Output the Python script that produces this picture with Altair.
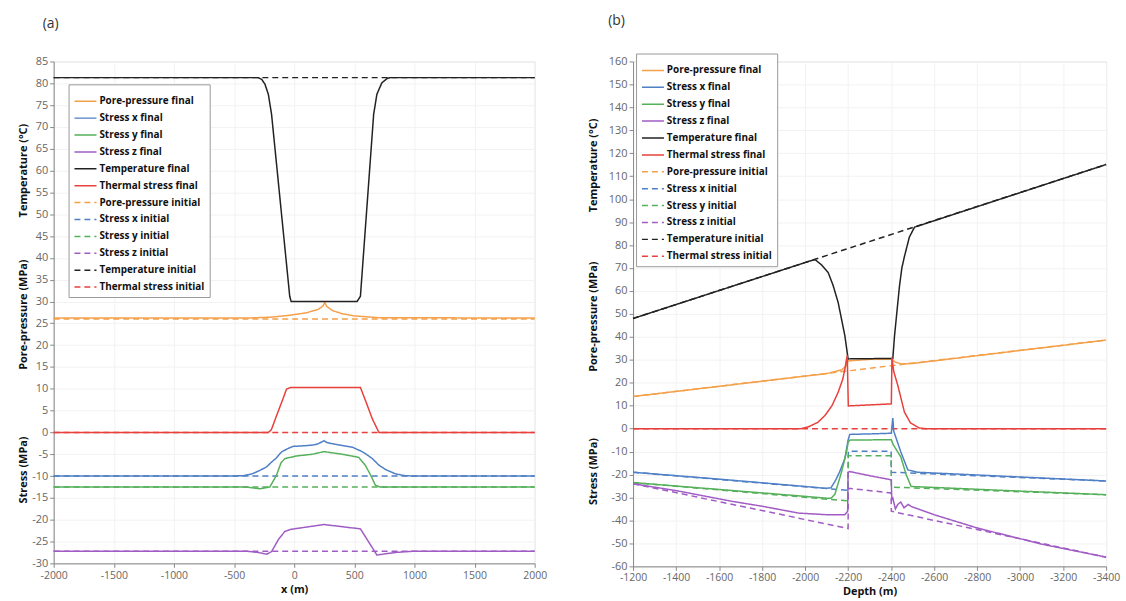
import altair as alt
import pandas as pd

SERIES = ["Pore-pressure final", "Stress x final", "Stress y final", "Stress z final",
          "Temperature final", "Thermal stress final", "Pore-pressure initial",
          "Stress x initial", "Stress y initial", "Stress z initial",
          "Temperature initial", "Thermal stress initial"]
BASE_COLORS = ["#f4a04a", "#4f7fc4", "#55b05a", "#a05cc4", "#222222", "#e8403c"]
COLORS = BASE_COLORS + BASE_COLORS
DASHES = [[1, 0]] * 6 + [[6, 4]] * 6

# ---------------- panel (a): x (m) ----------------
a_temp_final_x = [-2000, -300, -270, -243, -215, -188, -37, -25, 523, 551, 661, 688, 729, 773, 800, 2000]
a_temp_final_y = [81.3, 81.3, 80.9, 79.8, 77.5, 72.9, 31.2, 30.0, 30.0, 31.2, 72.9, 77.5, 80.1, 81.1, 81.3, 81.3]
a_temp_init_x = [-2000, 2000]
a_temp_init_y = [81.3, 81.3]

a_pp_final_x = [-2000, -400, -200, -50, 100, 200, 240, 255, 270, 320, 400, 500, 700, 2000]
a_pp_final_y = [26.2, 26.2, 26.4, 26.8, 27.4, 28.2, 29.0, 29.8, 28.9, 27.9, 27.2, 26.7, 26.3, 26.2]
a_pp_init_x = [-2000, 2000]
a_pp_init_y = [26.0, 26.0]

a_ts_final_x = [-2000, -216, -190, -147, -100, -64, -30, 551, 600, 650, 705, 2000]
a_ts_final_y = [0, 0, 0.6, 3.8, 7.2, 9.9, 10.3, 10.3, 6.8, 3.1, 0, 0]
a_ts_init_x = [-2000, 2000]
a_ts_init_y = [0, 0]

a_sx_final_x = [-2000, -500, -422, -350, -285, -230, -188, -150, -120, -106, -60, -10, 60, 155, 200,
                248, 270, 320, 400, 485, 550, 595, 650, 705, 760, 843, 920, 1000, 2000]
a_sx_final_y = [-10, -10, -9.9, -9.5, -8.7, -7.9, -6.8, -5.9, -4.9, -4.5, -3.8, -3.2, -3.1, -2.9, -2.6,
                -1.9, -2.3, -2.6, -3.0, -3.4, -4.2, -4.9, -6.0, -7.5, -8.5, -9.5, -9.9, -10, -10]
a_sx_init_x = [-2000, 2000]
a_sx_init_y = [-10, -10]

a_sy_final_x = [-2000, -400, -285, -202, -147, -110, -78, 18, 150, 248, 400, 537, 593, 640, 675, 713, 2000]
a_sy_final_y = [-12.5, -12.5, -12.9, -12.5, -9.8, -7.0, -6.0, -5.4, -5.0, -4.4, -5.0, -5.7, -7.6, -10.0, -12.1, -12.5, -12.5]
a_sy_init_x = [-2000, 2000]
a_sy_init_y = [-12.5, -12.5]

a_sz_final_x = [-2000, -400, -300, -229, -188, -130, -78, -27, 100, 248, 400, 551, 661, 688, 760, 843, 1000, 2000]
a_sz_final_y = [-27.2, -27.2, -27.5, -27.9, -27.3, -24.5, -22.7, -22.2, -21.7, -21.1, -21.6, -22.1, -26.9, -28.1, -27.8, -27.5, -27.2, -27.2]
a_sz_init_x = [-2000, 2000]
a_sz_init_y = [-27.2, -27.2]

# ---------------- panel (b): Depth (m) ----------------
b_temp_final_x = [-1200, -2034, -2047, -2075, -2108, -2130, -2154, -2185, -2200, -2408, -2416, -2439,
                  -2450, -2462, -2485, -2509, -3400]
b_temp_final_y = [48.0, 73.4, 73.6, 71.5, 67.9, 62.5, 54.9, 40.5, 30.4, 30.6, 40.5, 62.1,
                  70.0, 75.0, 83.5, 87.8, 115.1]
b_temp_init_x = [-1200, -3400]
b_temp_init_y = [48.0, 115.1]

b_pp_final_x = [-1200, -2100, -2170, -2193, -2200, -2300, -2400, -2420, -2447, -2500, -3400]
b_pp_final_y = [14.0, 24.0, 25.6, 27.5, 29.5, 30.2, 30.2, 29.0, 28.2, 28.4, 38.6]
b_pp_init_x = [-1200, -3400]
b_pp_init_y = [14.0, 38.6]

b_ts_final_x = [-1200, -1980, -2016, -2060, -2093, -2125, -2154, -2175, -2185, -2196, -2201,
                -2401, -2404, -2412, -2431, -2462, -2490, -2530, -2560, -3400]
b_ts_final_y = [0, 0, 0.8, 2.8, 5.8, 10.0, 15.9, 21.5, 26.0, 32.0, 9.9,
                10.8, 31.0, 25.0, 18.9, 7.2, 2.5, 0.3, 0, 0]
b_ts_init_x = [-1200, -3400]
b_ts_init_y = [0, 0]

b_sx_final_x = [-1200, -1600, -2000, -2093, -2120, -2139, -2160, -2185, -2200, -2208, -2300, -2401,
                -2404, -2408, -2412, -2445, -2478, -2524, -3400]
b_sx_final_y = [-19.0, -22.0, -25.2, -26.0, -25.8, -23.0, -19.0, -13.0, -5.0, -2.5, -2.3, -2.0,
                1.0, 4.6, -1.0, -10.1, -18.0, -19.0, -22.8]
b_sx_init_x = [-1200, -2200, -2201, -2400, -2401, -3400]
b_sx_init_y = [-19.0, -26.9, -9.8, -9.8, -19.0, -22.8]

b_sy_final_x = [-1200, -1600, -2000, -2100, -2121, -2139, -2170, -2193, -2200, -2208, -2401, -2410,
                -2445, -2470, -2493, -3400]
b_sy_final_y = [-23.5, -26.5, -29.5, -30.3, -30.3, -28.5, -18.7, -10.0, -6.0, -5.0, -4.8, -7.0,
                -12.3, -20.0, -25.2, -28.8]
b_sy_init_x = [-1200, -2200, -2201, -2400, -2401, -3400]
b_sy_init_y = [-23.5, -31.5, -11.8, -11.8, -25.5, -28.8]

b_sz_final_x = [-1200, -1400, -1662, -1800, -1970, -2100, -2185, -2198, -2200, -2208, -2300, -2401,
                -2403, -2408, -2420, -2431, -2445, -2460, -2480, -2493, -2600, -2801, -3109, -3400]
b_sz_final_y = [-24.0, -27.0, -31.7, -33.8, -36.8, -37.5, -37.5, -36.0, -19.0, -18.7, -20.5, -22.3,
                -31.0, -30.3, -35.0, -33.0, -32.0, -34.5, -33.0, -33.9, -37.5, -43.3, -50.5, -56.0]
b_sz_init_x = [-1200, -2200, -2201, -2400, -2401, -3400]
b_sz_init_y = [-24.0, -43.5, -26.0, -28.0, -36.0, -56.0]

# y-axis group titles (placed at data heights)
a_titles = ["Temperature (°C)", "Pore-pressure (MPa)", "Stress (MPa)"]
a_title_y = [60, 27, -8.6]
b_titles = ["Temperature (°C)", "Pore-pressure (MPa)", "Stress (MPa)"]
b_title_y = [114.7, 48.8, -18.7]


def build(prefix_data):
    rows = []
    for name, xs, ys in prefix_data:
        for i, (x, y) in enumerate(zip(xs, ys)):
            rows.append({"x": x, "v": y, "series": name, "i": i})
    return pd.DataFrame(rows)


a_df = build([
    ("Pore-pressure initial", a_pp_init_x, a_pp_init_y),
    ("Stress x initial", a_sx_init_x, a_sx_init_y),
    ("Stress y initial", a_sy_init_x, a_sy_init_y),
    ("Stress z initial", a_sz_init_x, a_sz_init_y),
    ("Temperature initial", a_temp_init_x, a_temp_init_y),
    ("Thermal stress initial", a_ts_init_x, a_ts_init_y),
    ("Pore-pressure final", a_pp_final_x, a_pp_final_y),
    ("Stress x final", a_sx_final_x, a_sx_final_y),
    ("Stress y final", a_sy_final_x, a_sy_final_y),
    ("Stress z final", a_sz_final_x, a_sz_final_y),
    ("Temperature final", a_temp_final_x, a_temp_final_y),
    ("Thermal stress final", a_ts_final_x, a_ts_final_y),
])
b_df = build([
    ("Pore-pressure initial", b_pp_init_x, b_pp_init_y),
    ("Stress x initial", b_sx_init_x, b_sx_init_y),
    ("Stress y initial", b_sy_init_x, b_sy_init_y),
    ("Stress z initial", b_sz_init_x, b_sz_init_y),
    ("Temperature initial", b_temp_init_x, b_temp_init_y),
    ("Thermal stress initial", b_ts_init_x, b_ts_init_y),
    ("Pore-pressure final", b_pp_final_x, b_pp_final_y),
    ("Stress x final", b_sx_final_x, b_sx_final_y),
    ("Stress y final", b_sy_final_x, b_sy_final_y),
    ("Stress z final", b_sz_final_x, b_sz_final_y),
    ("Temperature final", b_temp_final_x, b_temp_final_y),
    ("Thermal stress final", b_ts_final_x, b_ts_final_y),
])

FONT = "Open Sans"


def panel(df, title, xscale, xvals, xtitle, ydomain, yvals, titles, title_y, width, height,
          legend_x, legend_y, text_x, title_dx, label_pad):
    legend = alt.Legend(orient="none", legendX=legend_x, legendY=legend_y, title=None,
                        strokeColor="#999999", fillColor="white", padding=5,
                        labelFontSize=10, labelFontWeight="bold", labelFont=FONT,
                        labelColor="#111111", symbolType="stroke", symbolSize=490,
                        symbolStrokeWidth=1.5, rowPadding=0, labelOffset=2)
    color = alt.Color("series:N", scale=alt.Scale(domain=SERIES, range=COLORS), legend=legend)
    dash = alt.StrokeDash("series:N", scale=alt.Scale(domain=SERIES, range=DASHES), legend=legend)
    xenc = alt.X("x:Q", scale=xscale,
                 axis=alt.Axis(values=xvals, title=xtitle, labelExpr="'' + datum.value",
                               labelOverlap=False, labelFlush=False,
                               grid=True, gridColor="#f2f2f2", domainColor="#888888",
                               tickColor="#888888", labelColor="#666666", labelFontSize=10.5,
                               labelFont=FONT, titleFont=FONT, titleFontSize=11,
                               titleFontWeight="bold", titleColor="#111111", titlePadding=3,
                               labelPadding=label_pad, tickSize=4))
    yscale = alt.Scale(domain=ydomain, nice=False, zero=False)
    yaxis = alt.Axis(values=yvals, title=None, labelExpr="'' + datum.value",
                     labelOverlap=False, labelFlush=False,
                     grid=True, gridColor="#f2f2f2", domainColor="#888888",
                     tickColor="#888888", labelColor="#666666", labelFontSize=11,
                     labelFont=FONT, labelPadding=2, tickSize=4)
    yenc = alt.Y("v:Q", scale=yscale, axis=yaxis)
    base = alt.Chart(df).encode(x=xenc, y=yenc, color=color, strokeDash=dash,
                                order=alt.Order("i:Q"), detail="series:N")
    init_layer = base.transform_filter("indexof(datum.series, 'initial') >= 0").mark_line(strokeWidth=1.5)
    final_layer = base.transform_filter("indexof(datum.series, 'final') >= 0").mark_line(strokeWidth=1.5)
    tdf = pd.DataFrame({"label": titles, "v": title_y})
    text = alt.Chart(tdf).mark_text(angle=270, font=FONT, fontSize=11, fontWeight="bold",
                                    color="#111111", baseline="middle", align="center").encode(
        x=alt.value(text_x), y=alt.Y("v:Q", scale=yscale, axis=yaxis), text="label:N")
    return alt.layer(init_layer, final_layer, text).properties(
        width=width, height=height,
        title=alt.TitleParams(title, anchor="start", frame="group", fontSize=14, fontWeight="normal",
                              font=FONT, color="#333333", dx=title_dx, offset=25))


chart_a = panel(a_df, "(a)", alt.Scale(domain=[-2000, 2000], nice=False),
                list(range(-2000, 2001, 500)), "x (m)", [-30, 85], list(range(-30, 86, 5)),
                a_titles, a_title_y, 484, 505, 15, 23, -30, -11, 3)
chart_b = panel(b_df, "(b)", alt.Scale(domain=[-3400, -1200], reverse=True, nice=False),
                list(range(-1200, -3401, -200)), "Depth (m)", [-60, 160], list(range(-60, 161, 10)),
                b_titles, b_title_y, 476, 508, 3, -8, -39, -25, 2)

chart = alt.hconcat(chart_a, chart_b, spacing=40).resolve_scale(
    color="independent", strokeDash="independent", x="independent", y="independent"
).resolve_legend(color="independent", strokeDash="independent").configure_view(
    stroke=None).configure(padding={"left": 17, "top": 12, "right": 5, "bottom": 0},
                           background="white")

chart.save("out.html", embed_options={"renderer": "svg", "actions": False})
